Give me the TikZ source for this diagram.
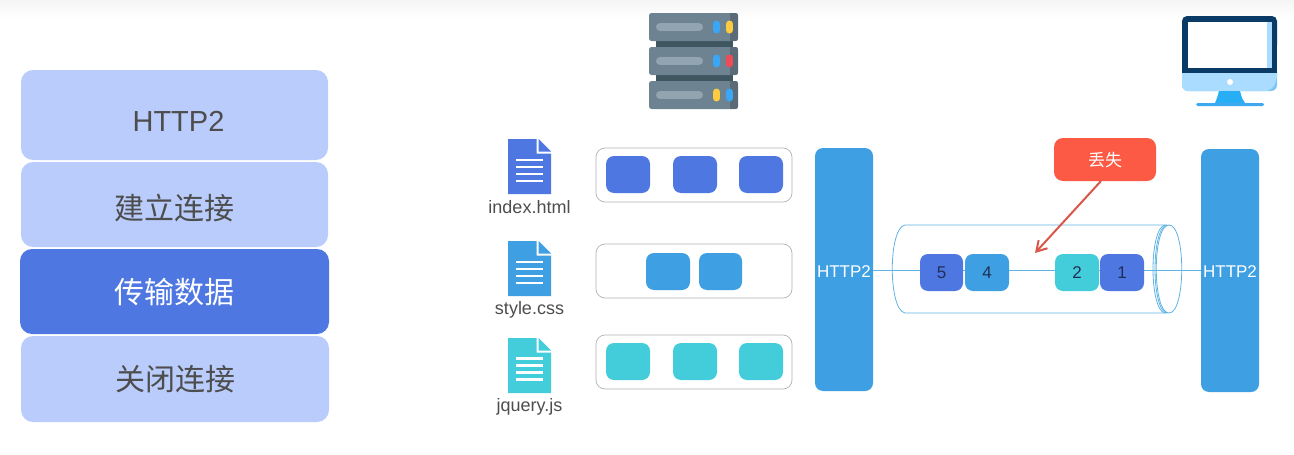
\documentclass[tikz,border=0pt]{standalone}
\usepackage{fontspec}
\setmainfont{Liberation Sans}
\newfontfamily\cjk{Noto Sans CJK SC}
\usetikzlibrary{arrows.meta}
\definecolor{lightb}{HTML}{B9CCFB}
\definecolor{darkb}{HTML}{4F77E2}
\definecolor{midb}{HTML}{3F9FE3}
\definecolor{teal}{HTML}{43CDDB}
\definecolor{tube}{HTML}{5FB3E3}
\definecolor{redb}{HTML}{FC5A44}
\definecolor{arrowr}{HTML}{D9574A}
\definecolor{txt}{HTML}{4D4D4D}
\definecolor{numc}{HTML}{1F2F55}
\definecolor{srv}{HTML}{6E8391}
\definecolor{srvd}{HTML}{5A6B77}
\definecolor{srvk}{HTML}{3F5560}
\definecolor{srvp}{HTML}{92A4B0}
\definecolor{pblue}{HTML}{3AA6F5}
\definecolor{pyel}{HTML}{FDCB3F}
\definecolor{pred}{HTML}{EF4A58}
\definecolor{navy}{HTML}{0A3A66}
\definecolor{skyl}{HTML}{A9DCFF}
\definecolor{skyd}{HTML}{7CC5F5}
\definecolor{stand}{HTML}{27AEF5}
\definecolor{standb}{HTML}{3EA9EE}
\newcommand{\lowered}[2]{\raisebox{-#1pt}[0pt][0pt]{#2}}
\tikzset{
 stagebox/.style={draw=none,fill=lightb,rounded corners=12pt,minimum width=307pt,text=txt,inner sep=0pt,font=\cjk\fontsize{30}{30}\selectfont},
 rowbox/.style={draw=black!30,line width=.7pt,fill=white,rounded corners=9pt,minimum width=196pt,minimum height=54pt,inner sep=0pt},
 chunk/.style={draw=none,rounded corners=8pt,minimum width=44pt,minimum height=37pt,inner sep=0pt},
 packet/.style={chunk,text=numc,font=\fontsize{17}{17}\selectfont},
 layerbox/.style={draw=none,fill=midb,rounded corners=8pt,minimum width=58pt,minimum height=243pt,inner sep=0pt,text=white,font=\fontsize{17}{17}\selectfont},
 filelabel/.style={text=txt,inner sep=0pt,anchor=base,font=\fontsize{18}{18}\selectfont},
 tubeline/.style={draw=tube,line width=.8pt},
 pill/.style={line cap=round,line width=7pt},
}
\newcommand{\docicon}[4]{% x, y top, colour, y of first line
 \fill[#3] (#1,#2) -- ++(28.5,0) -- ++(0,14.5) -- ++(14.5,0) -- (#1+43,#2+55) -- (#1,#2+55) -- cycle;
 \fill[#3] (#1+30.5,#2) -- (#1+43,#2+12.5) -- (#1+30.5,#2+12.5) -- cycle;
 \foreach \k in {0,1,2,3}
  \fill[white] (#1+8,#4+\k*7-1.1) rectangle (#1+35,#4+\k*7+1.1);
}
\begin{document}
\begin{tikzpicture}[x=1pt,y=-1pt]
\useasboundingbox (0,0) rectangle (1294,455);
\shade[top color=black!4,bottom color=white] (0,0) rectangle (1294,18);

% stages
\node[stagebox,minimum height=90pt,font=\fontsize{29}{29}\selectfont] (s1) at (174.5,115) {\lowered{16.4}{\hspace{8pt}HTTP2}};
\node[stagebox,minimum height=85pt] (s2) at (174.5,204.5) {\lowered{15}{建立连接}};
\node[stagebox,minimum height=85pt,minimum width=309pt,fill=darkb,text=white] (s3) at (174.5,291.5) {\lowered{12}{传输数据}};
\node[stagebox,minimum height=86pt,minimum width=308pt] (s4) at (175,379) {\lowered{11.5}{关闭连接}};

% server icon
\fill[srvk] (656,38) rectangle (733,50);
\fill[srvk] (656,72) rectangle (733,84);
\foreach \t in {13,47,81}{
 \fill[srv,rounded corners=2.5pt] (649,\t) rectangle (738,\t+28);
 \begin{scope}
  \clip[rounded corners=2.5pt] (649,\t) rectangle (738,\t+28);
  \fill[srvd] (730,\t) rectangle (738,\t+28);
 \end{scope}
 \draw[srvp,line cap=round,line width=8pt] (660,\t+14) -- (699,\t+14);
}
\draw[pblue,pill] (716.5,24) -- (716.5,30);
\draw[pyel,pill] (729.5,24) -- (729.5,30);
\draw[pblue,pill] (716.5,58) -- (716.5,64);
\draw[pred,pill] (729.5,58) -- (729.5,64);
\draw[pyel,pill] (716.5,92) -- (716.5,98);
\draw[pblue,pill] (729.5,92) -- (729.5,98);

% monitor icon
\fill[skyd,rounded corners=6pt] (1182,65) rectangle (1277,91);
\fill[skyl] (1182,73) -- (1277,73) .. controls (1277,82) and (1274,90) .. (1266,91) -- (1188,91) .. controls (1184,91) and (1182,88) .. (1182,84) -- cycle;
\fill[navy,rounded corners=5pt] (1182,16) rectangle (1277,50);
\fill[navy] (1182,40) rectangle (1277,73);
\fill[white] (1188,22) rectangle (1267,68);
\fill[skyl] (1267,22) rectangle (1272,68);
\fill[white] (1230,82) circle (3);
\fill[stand] (1219,91) -- (1240,91) -- (1242,98) -- (1245,103) -- (1215,103) -- (1217,98) -- cycle;
\fill[standb,rounded corners=1.5pt] (1196,103) rectangle (1264,106);

% files
\docicon{508}{139}{darkb}{160}
\docicon{508}{241}{midb}{262}
\docicon{508}{338}{teal}{358.5}
\node[filelabel] (f1) at (529.5,213) {index.html};
\node[filelabel] (f2) at (529.5,314.5) {style.css};
\node[filelabel] (f3) at (529.5,411) {jquery.js};

% rows
\node[rowbox] (r1) at (694,175) {};
\node[rowbox] (r2) at (694,271) {};
\node[rowbox] (r3) at (694,362) {};
\node[chunk,fill=darkb] (a1) at (628,174.5) {};
\node[chunk,fill=darkb] (a2) at (695,174.5) {};
\node[chunk,fill=darkb] (a3) at (761,174.5) {};
\node[chunk,fill=midb] (b1) at (668,271.5) {};
\node[chunk,fill=midb,minimum width=43pt] (b2) at (720.5,271.5) {};
\node[chunk,fill=teal] (c1) at (628,361.5) {};
\node[chunk,fill=teal] (c2) at (695,361.5) {};
\node[chunk,fill=teal] (c3) at (761,361.5) {};

% layers
\node[layerbox] (h1) at (844,269.5) {\lowered{7.5}{HTTP2}};
\node[layerbox] (h2) at (1230,270.5) {\lowered{6.5}{HTTP2}};

% tube
\draw[tubeline] (1167,225) -- (905,225) .. controls (888,228) and (888,310) .. (905,313) -- (1167,313);
\draw[tubeline] (1169,225) .. controls (1186,225) and (1186,313) .. (1169,313) .. controls (1152,313) and (1152,225) .. (1169,225);
\draw[tubeline] (1167,225) .. controls (1151,227) and (1151,311) .. (1167,313);
\draw[tubeline] (1165,225) .. controls (1149,228) and (1149,310) .. (1165,313);

% connection line
\draw[tubeline] (h1.east) ++(0,1) -- (h2.west);

% packets
\node[packet,fill=darkb,minimum width=43pt] (p5) at (941.5,272.5) {5};
\node[packet,fill=midb] (p4) at (987,272.5) {4};
\node[packet,fill=teal] (p2) at (1077,272.5) {2};
\node[packet,fill=darkb] (p1) at (1122,272.5) {1};

% lost label
\node[draw=none,fill=redb,rounded corners=9pt,minimum width=102pt,minimum height=43pt,inner sep=0pt,text=white,font=\cjk\fontsize{17}{17}\selectfont] (lost) at (1105,159.5) {\lowered{7}{丢失}};
\coordinate (hit) at (1035,253);
\draw[arrowr,line width=2pt,-{Straight Barb[length=10pt,width=12pt]}] (1101,181) -- (hit);
\end{tikzpicture}
\end{document}
